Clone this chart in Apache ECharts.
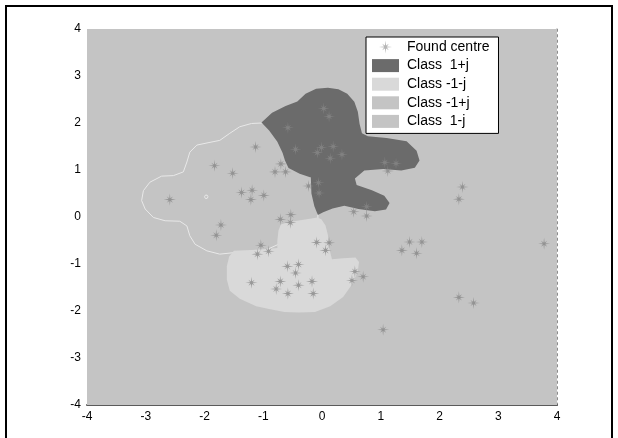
<!DOCTYPE html>
<html>
<head>
<meta charset="utf-8">
<script src="https://cdn.jsdelivr.net/npm/echarts@6/dist/echarts.min.js"></script>
<style>
  html, body { margin: 0; padding: 0; background: #fff; }
  #chart { width: 618px; height: 438px; }
</style>
</head>
<body>
<div id="chart"></div>
<script>
// Cluster centres found in the complex plane (real, imaginary)
const foundCentres = [
  [0.03, 2.31], [0.12, 2.14], [-0.58, 1.90], [-1.13, 1.49], [-0.45, 1.44],
  [-0.01, 1.48], [0.19, 1.50], [-0.08, 1.37], [0.34, 1.33], [0.14, 1.25],
  [1.07, 1.16], [1.26, 1.14], [1.12, 0.98], [-1.83, 1.09], [-1.52, 0.93],
  [-0.70, 1.13], [-0.80, 0.96], [-0.62, 0.96], [-0.23, 0.66], [-0.06, 0.73],
  [-0.05, 0.51], [-1.37, 0.52], [-1.19, 0.57], [-1.21, 0.37], [-0.99, 0.46],
  [-2.59, 0.37], [-1.72, -0.17], [-1.80, -0.39], [-0.53, 0.05], [-0.71, -0.05],
  [-0.54, -0.12], [0.54, 0.11], [0.76, 0.22], [0.76, 0.02], [2.39, 0.64],
  [2.33, 0.38], [-1.04, -0.60], [-1.10, -0.79], [-0.91, -0.73], [-0.09, -0.54],
  [0.12, -0.55], [0.06, -0.71], [1.36, -0.71], [1.49, -0.53], [1.70, -0.53],
  [1.61, -0.77], [3.78, -0.57], [-0.59, -1.05], [-0.40, -1.01], [-0.45, -1.19],
  [-1.20, -1.40], [-0.71, -1.37], [-0.78, -1.53], [-0.58, -1.63], [-0.40, -1.45],
  [-0.17, -1.37], [-0.15, -1.63], [0.56, -1.16], [0.70, -1.27], [0.51, -1.35],
  [2.33, -1.71], [2.58, -1.83], [1.04, -2.40]
];

// Decision region boundaries
const classPlusOnePlusJ = [
  [-1.03, 2.01], [-0.85, 2.22], [-0.62, 2.36], [-0.42, 2.46], [-0.28, 2.62],
  [-0.10, 2.73], [0.10, 2.75], [0.28, 2.72], [0.43, 2.62], [0.55, 2.45],
  [0.61, 2.24], [0.64, 1.98], [0.68, 1.78], [0.78, 1.72], [1.10, 1.68],
  [1.44, 1.61], [1.61, 1.41], [1.66, 1.20], [1.58, 1.05], [1.35, 0.99],
  [1.04, 1.02], [0.72, 0.99], [0.56, 0.82], [0.59, 0.68], [0.85, 0.57],
  [1.06, 0.45], [1.15, 0.30], [1.09, 0.16], [0.90, 0.12], [0.62, 0.17],
  [0.38, 0.24], [0.18, 0.18], [0.02, 0.10], [-0.07, 0.04], [-0.13, 0.23],
  [-0.18, 0.50], [-0.19, 0.84], [-0.38, 0.92], [-0.57, 1.04], [-0.63, 1.20],
  [-0.67, 1.36], [-0.76, 1.60], [-0.90, 1.84]
];

const classMinusOneMinusJ = [
  [-1.50, -0.72], [-1.20, -0.70], [-0.95, -0.68], [-0.76, -0.66], [-0.76, -0.50],
  [-0.74, -0.28], [-0.70, -0.16], [-0.58, -0.11], [-0.37, -0.07], [-0.18, -0.03],
  [-0.08, -0.01], [-0.01, -0.05], [0.06, -0.18], [0.10, -0.38], [0.12, -0.65],
  [0.17, -0.90], [0.36, -0.88], [0.57, -0.86], [0.63, -0.96], [0.61, -1.15],
  [0.52, -1.42], [0.36, -1.70], [0.14, -1.90], [-0.12, -2.02], [-0.40, -2.03],
  [-0.64, -2.02], [-0.90, -1.96], [-1.12, -1.90], [-1.40, -1.74], [-1.57, -1.57],
  [-1.62, -1.33], [-1.62, -1.05], [-1.58, -0.84]
];

const classMinusOnePlusJ = [
  [-1.03, 2.00], [-1.20, 1.99], [-1.40, 1.92], [-1.57, 1.78], [-1.74, 1.63],
  [-1.94, 1.58], [-2.13, 1.53], [-2.25, 1.38], [-2.30, 1.17], [-2.36, 0.96],
  [-2.53, 0.88], [-2.73, 0.87], [-2.93, 0.74], [-3.04, 0.56], [-3.07, 0.35],
  [-3.01, 0.17], [-2.87, -0.01], [-2.67, -0.08], [-2.42, -0.09], [-2.30, -0.19],
  [-2.25, -0.40], [-2.16, -0.58], [-1.96, -0.72], [-1.74, -0.79], [-1.51, -0.76],
  [-1.30, -0.90], [-0.60, -0.50], [-0.20, -0.20], [-0.08, -0.08], [-0.07, -0.06],
  [-0.07, 0.07], [-0.05, 0.30], [-0.10, 0.70], [-0.35, 1.10], [-0.80, 1.90]
];

// small isolated contour inside the -1+j region
const minusOnePlusJIsland = [
  [-1.94, 0.43], [-1.955, 0.465], [-1.985, 0.465], [-2.00, 0.43], [-1.985, 0.395], [-1.955, 0.395]
];

const classPlusOneMinusJ = [[-4, -4], [4, -4], [4, 4], [-4, 4]];

const legendNames = ['Found centre', 'Class  1+j', 'Class -1-j', 'Class -1+j', 'Class  1-j'];
const regionColors = ['#6b6b6b', '#d9d9d9', '#c4c4c4', '#c4c4c4'];

const FONT = '"Liberation Sans", Arial, sans-serif';

// asterisk-like sparkle marker
function starPath() {
  const pts = [];
  for (let k = 0; k < 16; k++) {
    const a = k * Math.PI / 8;
    const r = (k % 2) ? 1.15 : (k % 4 === 0 ? 5 : 3.6);
    pts.push((r * Math.sin(a)).toFixed(3) + ',' + (-r * Math.cos(a)).toFixed(3));
  }
  return 'path://M' + pts.join(' L') + ' Z';
}
const STAR = starPath();

function regionSeries(name, points, fill, extra) {
  return {
    name: name,
    type: 'custom',
    coordinateSystem: 'cartesian2d',
    clip: true,
    silent: true,
    itemStyle: { color: fill },
    data: points,
    renderItem: function (params, api) {
      if (params.dataIndex !== 0) return null;
      const main = {
        type: 'polygon',
        shape: { points: points.map(function (p) { return api.coord(p); }) },
        style: extra && extra.stroke
          ? { fill: fill, stroke: extra.stroke, lineWidth: 1 }
          : { fill: fill }
      };
      if (!extra || !extra.islands) return main;
      const children = [main];
      extra.islands.forEach(function (isl) {
        children.push({
          type: 'polygon',
          shape: { points: isl.map(function (p) { return api.coord(p); }) },
          style: { fill: null, stroke: extra.stroke, lineWidth: 1 }
        });
      });
      return { type: 'group', children: children };
    }
  };
}

const chart = echarts.init(document.getElementById('chart'), null, { renderer: 'canvas' });

chart.setOption({
  animation: false,
  backgroundColor: '#ffffff',
  grid: { left: 87, right: 61, top: 29, bottom: 33, containLabel: false },
  xAxis: {
    type: 'value', min: -4, max: 4, interval: 1,
    axisLine: { show: true, onZero: false, lineStyle: { color: '#5a5a5a', width: 2 } },
    axisTick: { show: false },
    splitLine: { show: false },
    axisLabel: { color: '#000', fontSize: 12, fontFamily: FONT, margin: 6, showMinLabel: true, showMaxLabel: true }
  },
  yAxis: [
    {
      type: 'value', min: -4, max: 4, interval: 1,
      axisLine: { show: false },
      axisTick: { show: false },
      splitLine: { show: false },
      axisLabel: { color: '#000', fontSize: 12, fontFamily: FONT, margin: 6, showMinLabel: true, showMaxLabel: true }
    },
    {
      type: 'value', min: -4, max: 4, interval: 1, position: 'right',
      axisLine: { show: true, onZero: false, lineStyle: { color: '#8a8a8a', width: 2, type: [1.5, 4] } },
      axisTick: { show: false },
      splitLine: { show: false },
      axisLabel: { show: false }
    }
  ],
  legend: {
    orient: 'vertical',
    left: 366, top: 37,
    padding: [3, 9, 5, 6],
    itemGap: 4.6,
    itemWidth: 27, itemHeight: 13,
    backgroundColor: '#ffffff',
    borderColor: '#000000', borderWidth: 1, borderRadius: 0,
    selectedMode: false,
    textStyle: { color: '#000', fontSize: 14, fontFamily: FONT, padding: [0, 0, 0, 3] },
    data: [
      { name: legendNames[0], icon: STAR, itemStyle: { color: '#a4a4a4' } },
      { name: legendNames[1], icon: 'rect' },
      { name: legendNames[2], icon: 'rect' },
      { name: legendNames[3], icon: 'rect' },
      { name: legendNames[4], icon: 'rect' }
    ]
  },
  graphic: [{
    type: 'polyline',
    silent: true,
    shape: { points: [[6, 438], [6, 6], [612, 6], [612, 438]] },
    style: { stroke: '#000', lineWidth: 2, fill: null }
  }],
  series: [
    regionSeries(legendNames[4], classPlusOneMinusJ, regionColors[3]),
    regionSeries(legendNames[3], classMinusOnePlusJ, regionColors[2], { stroke: '#e9e9e9', islands: [minusOnePlusJIsland] }),
    regionSeries(legendNames[1], classPlusOnePlusJ, regionColors[0]),
    regionSeries(legendNames[2], classMinusOneMinusJ, regionColors[1]),
    {
      name: legendNames[0],
      type: 'scatter',
      symbol: STAR,
      symbolSize: 12,
      silent: true,
      itemStyle: { color: '#878787' },
      data: foundCentres,
      z: 5
    }
  ]
});
</script>
</body>
</html>
